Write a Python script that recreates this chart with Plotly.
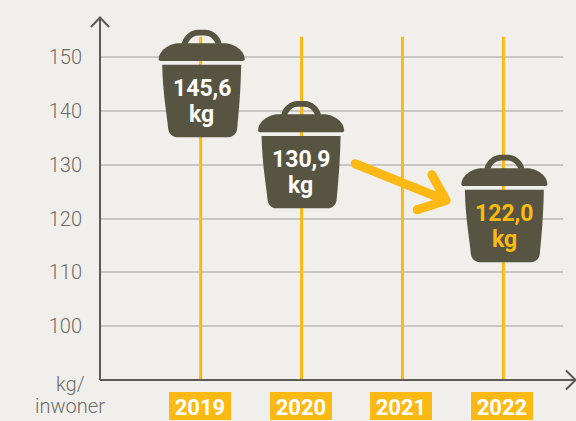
import plotly.graph_objects as go

years = [2019, 2020, 2021, 2022]
year_labels = ["2019", "2020", "2021", "2022"]
bin_years = [2019, 2020, 2022]
bin_values = [145.6, 130.9, 122.0]
bin_numbers = ["145,6", "130,9", "122,0"]
bin_unit = "kg"
y_ticks = [100, 110, 120, 130, 140, 150]
y_ticktext = ["100", "110", "120", "130", "140", "150"]

bin_label_colors = ["#ffffff", "#ffffff", "#fdb913"]
bin_nudges = [-2, 6, 0]
bin_xnudges = [0, -1.5, 0]
label_xshifts = [1, -1, 1]

BG = "#f1efeb"
YEL = "#fdb913"
DARK = "#575542"
AXIS = "#5c5a55"
GRID = "#c9c7c3"
TXT = "#6e6c67"
FONT = "Roboto"

L, R, T, B = 99.5, 563.0, 17.0, 380.0
W, H = 576, 421
PX_YEAR = 101.0
x0 = 2019 - (200.3 - L) / PX_YEAR
x1 = x0 + (R - L) / PX_YEAR


def px(x):
    return (x - L) / (R - L)


def py(y):
    return (B - y) / (B - T)


def bin_paths(d):
    f = lambda v: f"{v + d:.1f}"
    body = (
        f"M -38.5 {f(18)} L 40.5 {f(18)} C 40 {f(-10)} 38 {f(-30)} 36.5 {f(-46)} "
        f"C 36 {f(-51)} 32 {f(-54.3)} 28 {f(-54.3)} L -24 {f(-54.3)} "
        f"C -28 {f(-54.3)} -32 {f(-51)} -32.5 {f(-46)} C -34 {f(-30)} -38 {f(-10)} -38.5 {f(18)} Z"
    )
    lid = (
        f"M -42 {f(23.5)} C -42 {f(32)} -32 {f(39.7)} -21 {f(39.7)} L 23 {f(39.7)} "
        f"C 34 {f(39.7)} 44 {f(32)} 44 {f(23.5)} Q 44 {f(21.8)} 42 {f(21.8)} "
        f"L -40 {f(21.8)} Q -42 {f(21.8)} -42 {f(23.5)} Z"
    )
    handle = (
        f"M -19 {f(39)} C -17 {f(48)} -9 {f(53)} -3 {f(53)} L 5 {f(53)} "
        f"C 11 {f(53)} 19 {f(48)} 21 {f(39)} L 15 {f(39)} "
        f"C 13 {f(44)} 9 {f(47.3)} 4 {f(47.3)} L -2 {f(47.3)} "
        f"C -7 {f(47.3)} -11 {f(44)} -13 {f(39)} Z"
    )
    return [body, lid, handle]


def circle(cx, cy, r):
    k = 0.5523 * r
    return (
        f"M {cx - r} {cy} C {cx - r} {cy + k} {cx - k} {cy + r} {cx} {cy + r} "
        f"C {cx + k} {cy + r} {cx + r} {cy + k} {cx + r} {cy} "
        f"C {cx + r} {cy - k} {cx + k} {cy - r} {cx} {cy - r} "
        f"C {cx - k} {cy - r} {cx - r} {cy - k} {cx - r} {cy} Z"
    )


fig = go.Figure()

line_x, line_y = [], []
for yr in years:
    line_x += [yr, yr, None]
    line_y += [90, 153.8, None]
fig.add_trace(go.Scatter(x=line_x, y=line_y, mode="lines", hoverinfo="skip",
                         line=dict(color=YEL, width=3), showlegend=False))

shapes = []
annotations = []

for yr, val, num, col, d, xn, xs in zip(bin_years, bin_values, bin_numbers, bin_label_colors,
                                        bin_nudges, bin_xnudges, label_xshifts):
    for p in bin_paths(d):
        shapes.append(dict(type="path", path=p, xref="x", yref="y",
                           xsizemode="pixel", ysizemode="pixel", xanchor=yr + xn / PX_YEAR, yanchor=val,
                           fillcolor=DARK, line=dict(width=0), layer="above"))
    for text, shift in ((num, -6), (bin_unit, -31.5)):
        annotations.append(dict(x=yr, y=val, xref="x", yref="y", text=text, showarrow=False,
                                xshift=xs, yshift=shift + d, align="center", yanchor="middle",
                                font=dict(family=FONT, size=23, color=col, weight=700)))

# trend arrow, in pixels around the 2021 position at the 2020 value
ax, ay = 2021, 130.9
dx = lambda p: p - (200.3 + 2 * PX_YEAR)
dy = lambda p: 160.2 - p
start = (dx(355), dy(164))
tip = (dx(446), dy(200.7))
w1 = (dx(431.7), dy(175))
w2 = (dx(417), dy(210))
seg = " ".join(f"M {a[0]:.1f} {a[1]:.1f} L {tip[0]:.1f} {tip[1]:.1f}" for a in (start, w1, w2))
shapes.append(dict(type="path", path=seg, xref="x", yref="y", xsizemode="pixel", ysizemode="pixel",
                   xanchor=ax, yanchor=ay, line=dict(color=YEL, width=9), layer="above"))
caps = " ".join(circle(round(a[0], 1), round(a[1], 1), 4.5) for a in (start, w1, w2, tip))
shapes.append(dict(type="path", path=caps, xref="x", yref="y", xsizemode="pixel", ysizemode="pixel",
                   xanchor=ax, yanchor=ay, fillcolor=YEL, line=dict(width=0), layer="above"))

# axis arrows
axis_path = (
    f"M {px(99.5)} {py(380)} L {px(576)} {py(380)} "
    f"M {px(566)} {py(370.5)} L {px(575.5)} {py(380)} L {px(566)} {py(389.5)} "
    f"M {px(99.5)} {py(380)} L {px(99.5)} {py(17)} "
    f"M {px(90.5)} {py(27)} L {px(99.5)} {py(17.5)} L {px(108.5)} {py(27)}"
)
shapes.append(dict(type="path", path=axis_path, xref="paper", yref="paper",
                   line=dict(color=AXIS, width=2), layer="above"))

for yr, lab in zip(years, year_labels):
    annotations.append(dict(x=yr, y=0, xref="x", yref="paper", text=f"<b>{lab}</b>", showarrow=False,
                            yanchor="top", yshift=-12, xshift=-1, width=62, height=28, bgcolor=YEL,
                            borderpad=0, borderwidth=0, valign="bottom", align="center",
                            font=dict(family=FONT, size=22, color="#ffffff")))

for text, yp in (("kg/", 384), ("inwoner", 406)):
    annotations.append(dict(x=px(69.5), y=py(yp), xref="paper", yref="paper",
                            text=text, showarrow=False, align="center",
                            xanchor="center", yanchor="middle",
                            font=dict(family=FONT, size=20, color=TXT, weight=300)))

fig.update_layout(
    width=W, height=H, paper_bgcolor=BG, plot_bgcolor=BG,
    margin=dict(l=L, r=W - R, t=T, b=H - B, pad=0),
    showlegend=False, shapes=shapes, annotations=annotations,
    xaxis=dict(range=[x0, x1], showgrid=False, zeroline=False, showline=False,
               tickvals=[], showticklabels=False, fixedrange=True),
    yaxis=dict(range=[90, 90 + (B - T) / 5.38], showgrid=True, gridcolor=GRID, gridwidth=2,
               zeroline=False, showline=False, tickmode="array",
               tickvals=y_ticks, ticktext=y_ticktext, ticks="", ticklabelstandoff=17,
               tickfont=dict(family=FONT, size=20, color=TXT, weight=300), fixedrange=True),
)

fig.write_html("out.html", config=dict(displayModeBar=False),
               post_script="document.body.style.margin='0';")
